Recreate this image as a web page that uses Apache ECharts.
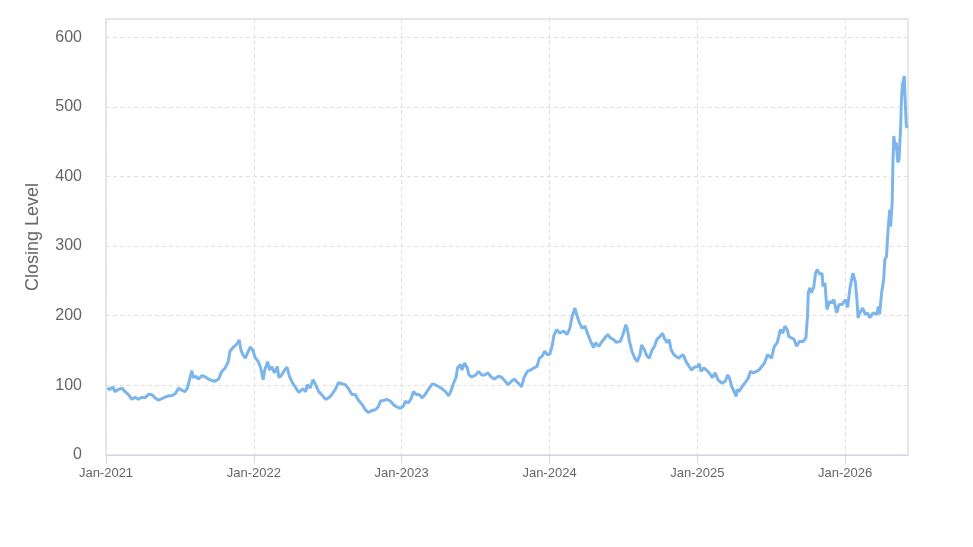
<!DOCTYPE html>
<html>
<head>
<meta charset="utf-8">
<script src="https://cdn.jsdelivr.net/npm/echarts@6/dist/echarts.min.js"></script>
<style>
  html, body { margin: 0; padding: 0; background: #fff; }
  #chart { width: 973px; height: 547px; }
</style>
</head>
<body>
<div id="chart"></div>
<script>
// closing levels
var dates = [
  '2021-01-04','2021-01-11','2021-01-18','2021-01-23','2021-01-31','2021-02-09','2021-02-17','2021-02-25',
  '2021-03-06','2021-03-14','2021-03-22','2021-03-30','2021-04-07','2021-04-16','2021-04-24','2021-05-02',
  '2021-05-10','2021-05-19','2021-05-27','2021-06-04','2021-06-12','2021-06-21','2021-06-29','2021-07-07',
  '2021-07-15','2021-07-21','2021-07-26','2021-08-01','2021-08-05','2021-08-11','2021-08-17','2021-08-26',
  '2021-09-03','2021-09-11','2021-09-19','2021-09-27','2021-10-06','2021-10-14','2021-10-22','2021-10-30',
  '2021-11-03','2021-11-10','2021-11-16','2021-11-22','2021-11-26','2021-11-30','2021-12-05','2021-12-11',
  '2021-12-16','2021-12-23','2021-12-30',
  '2022-01-04','2022-01-12','2022-01-18','2022-01-24','2022-01-28','2022-02-04','2022-02-09','2022-02-14',
  '2022-02-21','2022-02-28','2022-03-04','2022-03-11','2022-03-18','2022-03-24','2022-03-30','2022-04-07',
  '2022-04-15','2022-04-22','2022-05-02','2022-05-09','2022-05-13','2022-05-20','2022-05-27','2022-06-01',
  '2022-06-10','2022-06-17','2022-06-27','2022-07-05','2022-07-13','2022-07-21','2022-07-29','2022-08-08',
  '2022-08-15','2022-08-23','2022-08-31','2022-09-08','2022-09-16','2022-09-26','2022-10-03','2022-10-11',
  '2022-10-20','2022-10-28','2022-11-04','2022-11-10','2022-11-17','2022-11-25','2022-12-05','2022-12-12',
  '2022-12-20','2022-12-29',
  '2023-01-06','2023-01-10','2023-01-18','2023-01-25','2023-01-30','2023-02-06','2023-02-13','2023-02-20',
  '2023-02-28','2023-03-08','2023-03-17','2023-03-24','2023-04-03','2023-04-11','2023-04-19','2023-04-27',
  '2023-05-04','2023-05-09','2023-05-15','2023-05-19','2023-05-26','2023-05-30','2023-06-05','2023-06-12',
  '2023-06-16','2023-06-23','2023-07-03','2023-07-10','2023-07-17','2023-07-25','2023-08-02','2023-08-10',
  '2023-08-18','2023-08-28','2023-09-04','2023-09-12','2023-09-21','2023-09-29','2023-10-06','2023-10-16',
  '2023-10-24','2023-10-30','2023-11-07','2023-11-15','2023-11-23','2023-12-01','2023-12-07','2023-12-14',
  '2023-12-20','2023-12-27',
  '2024-01-02','2024-01-08','2024-01-12','2024-01-19','2024-01-26','2024-02-05','2024-02-13','2024-02-20',
  '2024-02-26','2024-03-04','2024-03-08','2024-03-15','2024-03-22','2024-03-29','2024-04-05','2024-04-12',
  '2024-04-19','2024-04-24','2024-05-02','2024-05-10','2024-05-17','2024-05-24','2024-05-31','2024-06-07',
  '2024-06-14','2024-06-24','2024-07-01','2024-07-08','2024-07-12','2024-07-17','2024-07-23','2024-07-30',
  '2024-08-05','2024-08-12','2024-08-16','2024-08-23','2024-08-29','2024-09-04','2024-09-11','2024-09-17',
  '2024-09-23','2024-09-30','2024-10-07','2024-10-11','2024-10-18','2024-10-23','2024-10-28','2024-11-04',
  '2024-11-08','2024-11-15','2024-11-22','2024-11-27','2024-12-04','2024-12-12','2024-12-18','2024-12-24',
  '2025-01-02','2025-01-06','2025-01-10','2025-01-17','2025-01-27','2025-02-03','2025-02-07','2025-02-14',
  '2025-02-21','2025-03-03','2025-03-11','2025-03-17','2025-03-21','2025-03-27','2025-04-07','2025-04-09',
  '2025-04-14','2025-04-21','2025-04-25','2025-05-02','2025-05-07','2025-05-12','2025-05-19','2025-05-23',
  '2025-06-02','2025-06-09','2025-06-16','2025-06-23','2025-06-27','2025-07-03','2025-07-10','2025-07-17',
  '2025-07-21','2025-07-25','2025-07-31','2025-08-05','2025-08-11','2025-08-15','2025-08-22','2025-08-28',
  '2025-09-03','2025-09-10','2025-09-19','2025-09-26','2025-09-30','2025-10-02','2025-10-06','2025-10-09',
  '2025-10-15','2025-10-20','2025-10-24','2025-10-31','2025-11-05','2025-11-07','2025-11-12','2025-11-17',
  '2025-11-24','2025-11-28','2025-12-04','2025-12-11','2025-12-17','2025-12-24',
  '2026-01-02','2026-01-07','2026-01-13','2026-01-20','2026-01-26','2026-01-30','2026-02-02','2026-02-06',
  '2026-02-13','2026-02-20','2026-02-25','2026-03-03','2026-03-11','2026-03-20','2026-03-24','2026-03-27',
  '2026-04-01','2026-04-06','2026-04-09','2026-04-13','2026-04-17','2026-04-21','2026-04-23','2026-04-27',
  '2026-04-29','2026-05-01','2026-05-05','2026-05-07','2026-05-11','2026-05-14','2026-05-18','2026-05-20',
  '2026-05-22','2026-05-27','2026-05-29','2026-06-01','2026-06-04'
];
var closes = [
  96, 94, 98, 91, 94, 96, 91, 87,
  80, 83, 80, 83, 82, 87, 87, 82,
  79, 81, 83, 85, 85, 88, 96, 93,
  91, 96, 108, 121, 111, 113, 109, 114,
  112, 109, 107, 106, 109, 120, 125, 134,
  149, 154, 157, 161, 165, 151, 144, 139,
  146, 155, 150,
  140, 134, 125, 108, 122, 134, 122, 127,
  118, 127, 111, 115, 122, 126, 113, 103,
  96, 90, 95, 91, 101, 96, 108, 103,
  91, 87, 80, 82, 87, 94, 104, 102,
  101, 95, 87, 87, 79, 72, 65, 61,
  64, 65, 69, 78, 78, 80, 77, 72,
  69, 67,
  71, 77, 75, 82, 91, 87, 87, 82,
  87, 94, 102, 101, 98, 95, 91, 85,
  94, 103, 111, 125, 130, 122, 132, 125,
  115, 112, 115, 120, 115, 115, 118, 112,
  109, 113, 112, 107, 101, 106, 109, 103,
  98, 111, 120, 122, 125, 127, 139, 142,
  149, 144,
  145, 158, 172, 180, 175, 178, 173, 181,
  199, 211, 202, 190, 182, 185, 173, 163,
  154, 161, 156, 163, 168, 173, 168, 166,
  162, 163, 173, 187, 180, 163, 149, 139,
  134, 144, 158, 151, 142, 139, 151, 156,
  166, 170, 175, 168, 161, 166, 151, 144,
  146, 139, 142, 144, 134, 127, 122, 126,
  127, 131, 120, 125, 120, 115, 111, 118,
  108, 103, 106, 115, 111, 98, 84, 94,
  91, 98, 101, 106, 111, 120, 118, 118,
  122, 127, 132, 144, 142, 139, 156, 161,
  170, 180, 175, 185, 180, 170, 168, 166,
  156, 163, 163, 168, 199, 233, 240, 233,
  240, 261, 266, 259, 261, 242, 247, 209,
  221, 218, 223, 204, 216, 216,
  223, 212, 240, 261, 249, 223, 197, 204,
  211, 202, 204, 197, 204, 202, 213, 202,
  233, 252, 281, 285, 324, 352, 328, 362,
  420, 458, 439, 449, 420, 424, 472, 510,
  530, 544, 510, 472, 470
];
var yearTicks = [2021, 2022, 2023, 2024, 2025, 2026];
var levelTicks = [0, 100, 200, 300, 400, 500, 600];

function toYear(s) {
  var d = new Date(s + 'T00:00:00Z');
  var y = d.getUTCFullYear();
  var start = Date.UTC(y, 0, 1), end = Date.UTC(y + 1, 0, 1);
  return y + (d.getTime() - start) / (end - start);
}

var seriesData = dates.map(function (d, i) {
  return [toYear(d), closes[i]];
});

var font = 'Liberation Sans, Arial, sans-serif';
var chart = echarts.init(document.getElementById('chart'));
var option = {
  animation: false,
  grid: {
    left: 106, right: 65, top: 19, bottom: 92,
    show: true, borderColor: '#d0d0d0', borderWidth: 1,
    containLabel: false, outerBoundsMode: 'none'
  },
  xAxis: {
    type: 'value',
    min: 2021, max: 2026.425, interval: 1,
    axisLine: { show: true, lineStyle: { color: '#ccd6eb', width: 1 } },
    axisTick: { show: true, length: 8, lineStyle: { color: '#ccd6eb' }, customValues: yearTicks },
    axisLabel: {
      customValues: yearTicks,
      formatter: function (v) { return 'Jan-' + Math.round(v); },
      color: '#666', fontSize: 13, fontFamily: font, margin: 12
    },
    splitLine: { show: true, lineStyle: { color: '#e0e0e0', type: [4, 3] } }
  },
  yAxis: {
    type: 'value',
    min: 0, max: 626, interval: 100,
    name: 'Closing Level',
    nameLocation: 'middle',
    nameGap: 64,
    nameTextStyle: { color: '#666', fontSize: 18, fontFamily: font },
    axisLine: { show: false },
    axisTick: { show: false },
    axisLabel: {
      customValues: levelTicks,
      color: '#666', fontSize: 16, fontFamily: font, margin: 24
    },
    splitLine: { show: true, lineStyle: { color: '#e0e0e0', type: [4, 3] } }
  },
  series: [{
    type: 'line',
    data: seriesData,
    showSymbol: false,
    lineStyle: { color: '#7cb5ec', width: 3 },
    itemStyle: { color: '#7cb5ec' }
  }]
};
chart.setOption(option);
</script>
</body>
</html>
